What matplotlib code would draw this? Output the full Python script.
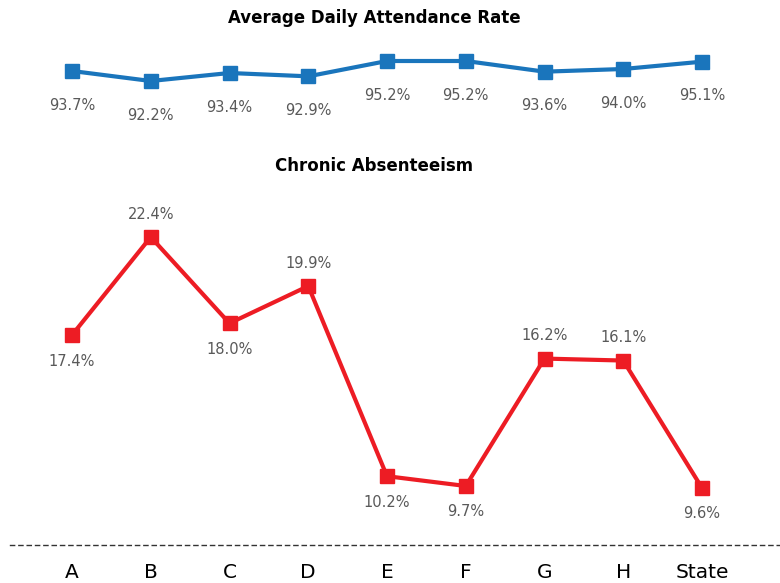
import numpy as np
import matplotlib.pyplot as plt

plt.rcParams['font.family'] = ['DejaVu Sans']

# data
schools = ['A', 'B', 'C', 'D', 'E', 'F', 'G', 'H', 'State']
attendance = [93.7, 92.2, 93.4, 92.9, 95.2, 95.2, 93.6, 94.0, 95.1]
absent = [17.4, 22.4, 18.0, 19.9, 10.2, 9.7, 16.2, 16.1, 9.6]
absent_pos = ['below', 'above', 'below', 'above', 'below', 'below', 'above', 'above', 'below']

blue = '#1a75bc'
red = '#ed1c24'
grey = '#595959'

W, H = 780, 583
fig = plt.figure(figsize=(W / 100, H / 100), dpi=100)

def px_axes(x0, y0, x1, y1):
    # pixel box (top-left origin) -> axes
    return fig.add_axes([x0 / W, 1 - y1 / H, (x1 - x0) / W, (y1 - y0) / H])

x = np.arange(len(schools))

# top panel
ax1 = px_axes(10, 40, 780, 110)
ax1.plot(x, attendance, color=blue, lw=3, marker='s', ms=9.5, clip_on=False)
ax1.set_xlim(-62 / 78.75, 8 + 78 / 78.75)
ax1.set_ylim(98.35 - 10.5, 98.35)
for xi, v in zip(x, attendance):
    ax1.annotate(f'{v:.1f}%', (xi, v), xytext=(0, -34), textcoords='offset pixels',
                 ha='center', va='center', fontsize=10.5, color=grey)
ax1.axis('off')
fig.text(374 / W, 1 - 18 / H, 'Average Daily Attendance Rate', ha='center', va='center',
         fontsize=12, fontweight='bold', color='black')

# bottom panel
ax2 = px_axes(10, 200, 780, 545)
ax2.plot(x, absent, color=red, lw=3, marker='s', ms=9.5, clip_on=False)
ax2.set_xlim(-62 / 78.75, 8 + 78 / 78.75)
ax2.set_ylim(24.29 - 17.6, 24.29)
for xi, v, p in zip(x, absent, absent_pos):
    dy = 23 if p == 'above' else -26
    ax2.annotate(f'{v:.1f}%', (xi, v), xytext=(0, dy), textcoords='offset pixels',
                 ha='center', va='center', fontsize=10.5, color=grey)
for s in ['top', 'left', 'right']:
    ax2.spines[s].set_visible(False)
ax2.spines['bottom'].set_linestyle((0, (3, 3)))
ax2.spines['bottom'].set_linewidth(1)
ax2.spines['bottom'].set_color('#333333')
ax2.set_yticks([])
ax2.set_xticks(x)
ax2.set_xticklabels(schools, fontsize=14.5, color='black')
ax2.tick_params(axis='x', length=0, pad=13)
fig.text(374 / W, 1 - 166 / H, 'Chronic Absenteeism', ha='center', va='center',
         fontsize=12, fontweight='bold', color='black')

fig.savefig('out.png', dpi=100)
